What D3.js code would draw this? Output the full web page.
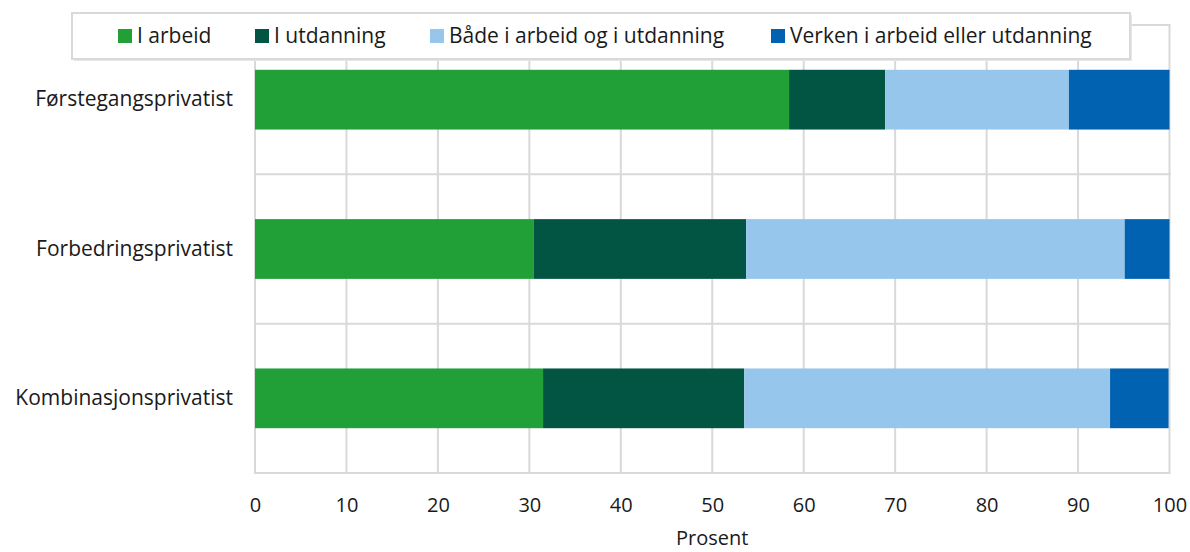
<!DOCTYPE html>
<html>
<head>
<meta charset="utf-8">
<script src="https://cdn.jsdelivr.net/npm/d3@7"></script>
<style>
  body { margin: 0; background: #fff; }
  text { font-family: "Open Sans", "Noto Sans", sans-serif; fill: #1a1a1a; }
</style>
</head>
<body>
<script>
// data (percent)
const categories = ["Førstegangsprivatist", "Forbedringsprivatist", "Kombinasjonsprivatist"];
const seriesNames = ["I arbeid", "I utdanning", "Både i arbeid og i utdanning", "Verken i arbeid eller utdanning"];
const iArbeid = [58.4, 30.5, 31.5];
const iUtdanning = [10.5, 23.2, 22.0];
const begge = [20.1, 41.4, 40.0];
const verken = [11.0, 4.9, 6.4];
const xTicks = [0, 10, 20, 30, 40, 50, 60, 70, 80, 90, 100];
const colors = ["#21a038", "#025443", "#96c6eb", "#0062b0"];

const w = 1190;
const h = 552;
const plotLeft = 255, plotRight = 1169.5, plotTop = 25, plotBottom = 473;

const rows = categories.map((c, i) => ({
  cat: c,
  "I arbeid": iArbeid[i],
  "I utdanning": iUtdanning[i],
  "Både i arbeid og i utdanning": begge[i],
  "Verken i arbeid eller utdanning": verken[i]
}));

const svg = d3.select("body")
  .append("svg")
  .attr("width", w)
  .attr("height", h);

const xScale = d3.scaleLinear()
  .domain([0, 100])
  .range([plotLeft, plotRight]);

const yScale = d3.scaleBand()
  .domain(categories)
  .range([plotTop, plotBottom])
  .paddingInner(0.6)
  .paddingOuter(0.3);

const grid = "#d9d9d9";

// vertical grid lines
svg.append("g")
  .selectAll("line")
  .data(xTicks)
  .join("line")
  .attr("x1", d => xScale(d))
  .attr("x2", d => xScale(d))
  .attr("y1", plotTop)
  .attr("y2", plotBottom)
  .attr("stroke", grid)
  .attr("stroke-width", 2);

// horizontal lines at category borders
const step = yScale.step();
const borders = categories.map(c => yScale(c) - step * 0.3).concat([plotBottom]);
svg.append("g")
  .selectAll("line")
  .data(borders)
  .join("line")
  .attr("x1", plotLeft - 1)
  .attr("x2", plotRight + 1)
  .attr("y1", d => d)
  .attr("y2", d => d)
  .attr("stroke", grid)
  .attr("stroke-width", 2);

// stacked bars
const stack = d3.stack().keys(seriesNames);
const layers = stack(rows);

svg.append("g")
  .selectAll("g")
  .data(layers)
  .join("g")
  .attr("fill", (d, i) => colors[i])
  .selectAll("rect")
  .data(d => d)
  .join("rect")
  .attr("x", d => xScale(d[0]))
  .attr("y", d => yScale(d.data.cat))
  .attr("width", d => xScale(d[1]) - xScale(d[0]))
  .attr("height", yScale.bandwidth());

// x axis
const xAxis = d3.axisBottom(xScale)
  .tickValues(xTicks)
  .tickSize(0)
  .tickPadding(0);

const gx = svg.append("g")
  .attr("transform", "translate(0," + plotBottom + ")")
  .call(xAxis);
gx.select(".domain").remove();
gx.selectAll("text")
  .attr("dy", null)
  .attr("y", 39)
  .attr("font-size", 20)
  .attr("font-family", null)
  .attr("fill", null);

svg.append("text")
  .attr("x", (plotLeft + plotRight) / 2)
  .attr("y", 545)
  .attr("text-anchor", "middle")
  .attr("font-size", 20)
  .text("Prosent");

// y axis labels
const yAxis = d3.axisLeft(yScale)
  .tickSize(0)
  .tickPadding(22);

const gy = svg.append("g")
  .attr("transform", "translate(" + plotLeft + ",0)")
  .call(yAxis);
gy.select(".domain").remove();
gy.selectAll("text")
  .attr("font-size", 21)
  .attr("font-family", null)
  .attr("fill", null);

// legend
const legend = svg.append("g");
legend.append("rect")
  .attr("x", 74)
  .attr("y", 15)
  .attr("width", 1058)
  .attr("height", 46)
  .attr("fill", "#e6e6e6");
legend.append("rect")
  .attr("x", 72)
  .attr("y", 13)
  .attr("width", 1058)
  .attr("height", 46)
  .attr("fill", "#fff")
  .attr("stroke", grid)
  .attr("stroke-width", 2);

const legendX = [118, 255, 430, 771];
const items = legend.selectAll("g.item")
  .data(seriesNames)
  .join("g")
  .attr("class", "item")
  .attr("transform", (d, i) => "translate(" + legendX[i] + ",36)");
items.append("rect")
  .attr("x", 0)
  .attr("y", -7)
  .attr("width", 14)
  .attr("height", 14)
  .attr("fill", (d, i) => colors[i]);
items.append("text")
  .attr("x", 19)
  .attr("dy", "0.35em")
  .attr("font-size", 21)
  .text(d => d);
</script>
</body>
</html>
